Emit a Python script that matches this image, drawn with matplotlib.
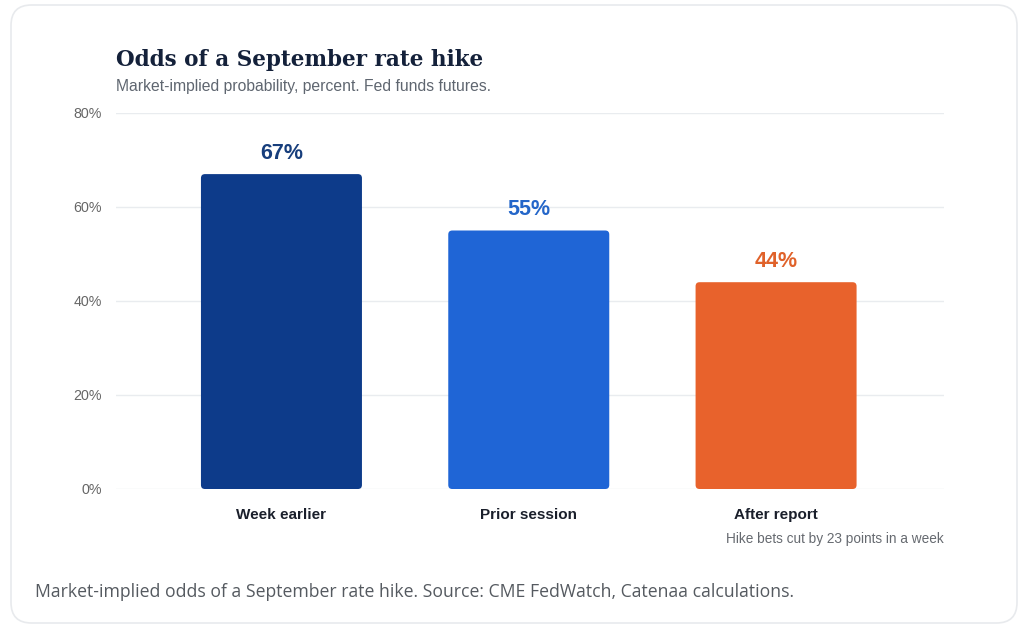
import matplotlib.pyplot as plt
from matplotlib.patches import FancyBboxPatch

categories = ["Week earlier", "Prior session", "After report"]
odds = [67, 55, 44]
bar_colors = ["#0d3b8a", "#1f65d6", "#e8622c"]
label_colors = ["#173e7c", "#2466c9", "#e0622a"]
yticks = [0, 20, 40, 60, 80]

W, H = 1024, 632
fig = plt.figure(figsize=(W / 100, H / 100), dpi=100)
fig.patch.set_facecolor("white")

# card outline
card = FancyBboxPatch((11 / W, 9 / H), 1006 / W, 618 / H,
                      boxstyle="round,pad=0,rounding_size=0.02",
                      transform=fig.transFigure, facecolor="none",
                      edgecolor="#e8eaed", linewidth=1.2, mutation_aspect=W / H,
                      zorder=-1)
fig.patches.append(card)

# axes: x 116..944, y 113..489 (0..80)
ax = fig.add_axes([116 / W, (H - 489) / H, 828 / W, 376 / H])
ax.set_facecolor("none")
x = list(range(len(categories)))
bars = ax.bar(x, odds, width=0.651, color=bar_colors)

ax.set_xlim(-0.669, 2.679)
ax.set_ylim(0, 80)

# swap plain bars for rounded ones
px_x = 247.25
px_y = 376 / 80
for b in bars:
    bx, by = b.get_x(), b.get_y()
    bw, bh = b.get_width(), b.get_height()
    r = 4 / px_x
    rb = FancyBboxPatch((bx, by), bw, bh,
                        boxstyle="round,pad=0,rounding_size=%f" % r,
                        mutation_aspect=px_x / px_y,
                        facecolor=b.get_facecolor(), edgecolor="none", zorder=3)
    ax.add_patch(rb)
    b.set_visible(False)

for i, v in enumerate(odds):
    ax.text(i, v + 21 / px_y, f"{v}%", ha="center", va="center",
            fontsize=15.5, fontweight="bold", color=label_colors[i],
            family="Liberation Sans")

ax.set_yticks(yticks)
ax.set_yticklabels([f"{t}%" for t in yticks], fontsize=10.3, color="#666666",
                   family="Liberation Sans")
ax.set_xticks(x)
ax.set_xticklabels(categories, fontsize=11, fontweight="bold", color="#1a1f2b",
                   family="Liberation Sans")
ax.tick_params(axis="y", length=0, pad=10)
ax.tick_params(axis="x", length=0, pad=14)
ax.grid(axis="y", color="#e9ecef", linewidth=1)
ax.set_axisbelow(True)
for s in ax.spines.values():
    s.set_visible(False)

fig.text(116 / W, 1 - 60 / H, "Odds of a September rate hike", fontsize=15.5,
         fontweight="bold", color="#14213a", family="DejaVu Serif", va="center")
fig.text(116 / W, 1 - 86 / H, "Market-implied probability, percent. Fed funds futures.",
         fontsize=11.3, color="#5f6670", family="Liberation Sans", va="center")
fig.text(944 / W, 1 - 539 / H, "Hike bets cut by 23 points in a week",
         fontsize=9.8, color="#666a70", family="Liberation Sans", va="center", ha="right")
fig.text(35 / W, 1 - 592 / H,
         "Market-implied odds of a September rate hike. Source: CME FedWatch, Catenaa calculations.",
         fontsize=12.7, color="#555a60", family="Open Sans", va="center")

fig.savefig("out.png", dpi=100)
